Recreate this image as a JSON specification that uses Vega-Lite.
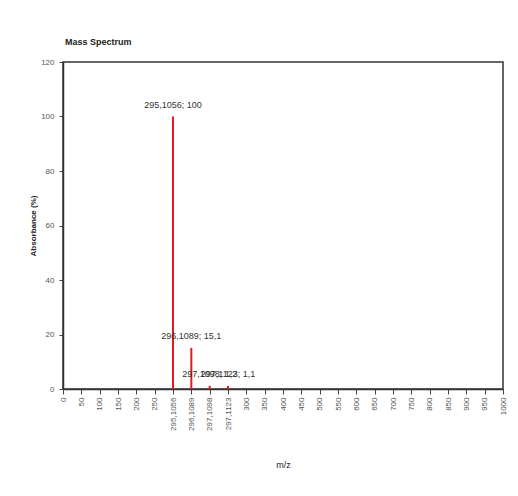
{
  "$schema": "https://vega.github.io/schema/vega-lite/v6.json",
  "autosize": {"type": "none"},
  "width": 440,
  "height": 327,
  "padding": {"left": 63, "top": 62, "right": 15, "bottom": 107},
  "background": "white",
  "config": {
    "font": "Liberation Sans",
    "view": {"stroke": "#333333", "strokeWidth": 1.5},
    "axis": {"labelFont": "Liberation Sans", "titleFont": "Liberation Sans"}
  },
  "title": {
    "text": "Mass Spectrum",
    "anchor": "start",
    "frame": "group",
    "fontSize": 9,
    "fontWeight": "bold",
    "color": "#222222",
    "offset": 11,
    "dx": 2,
    "font": "Liberation Sans"
  },
  "data": {
    "values": [
      {"mz": "295,1056", "abundance": 100, "label": "295,1056; 100"},
      {"mz": "296,1089", "abundance": 15.1, "label": "296,1089; 15,1"},
      {"mz": "297,1098", "abundance": 1.2, "label": "297,1098; 1,2"},
      {"mz": "297,1123", "abundance": 1.1, "label": "297,1123; 1,1"}
    ]
  },
  "encoding": {
    "x": {
      "field": "mz",
      "type": "ordinal",
      "scale": {
        "type": "point",
        "padding": 0,
        "domain": ["0", "50", "100", "150", "200", "250", "295,1056", "296,1089", "297,1098", "297,1123", "300", "350", "400", "450", "500", "550", "600", "650", "700", "750", "800", "850", "900", "950", "1000"]
      },
      "axis": {
        "title": "m/z",
        "titleFontSize": 9,
        "titleFontWeight": "normal",
        "titleColor": "#222222",
        "titlePadding": 30,
        "labelAngle": -90,
        "labelFontSize": 8,
        "labelColor": "#555555",
        "labelPadding": 3,
        "domainColor": "#333333",
        "domainWidth": 1.5,
        "tickColor": "#444444",
        "tickSize": 5,
        "grid": false
      }
    },
    "y": {
      "field": "abundance",
      "type": "quantitative",
      "scale": {"domain": [0, 120], "nice": false},
      "axis": {
        "title": "Absorbance (%)",
        "titleFontSize": 8,
        "titleFontWeight": "bold",
        "titleColor": "#222222",
        "titlePadding": 3,
        "values": [0, 20, 40, 60, 80, 100, 120],
        "labelFontSize": 8,
        "labelColor": "#555555",
        "labelPadding": 5,
        "domainColor": "#333333",
        "domainWidth": 1.5,
        "tickColor": "#444444",
        "tickSize": 4,
        "grid": false
      }
    }
  },
  "layer": [
    {
      "mark": {"type": "rule", "color": "#e31a1c", "strokeWidth": 2},
      "encoding": {"y2": {"datum": 0}}
    },
    {
      "mark": {"type": "text", "baseline": "bottom", "dy": -7, "fontSize": 9, "color": "#333333", "font": "Liberation Sans"},
      "encoding": {"text": {"field": "label"}}
    }
  ]
}
